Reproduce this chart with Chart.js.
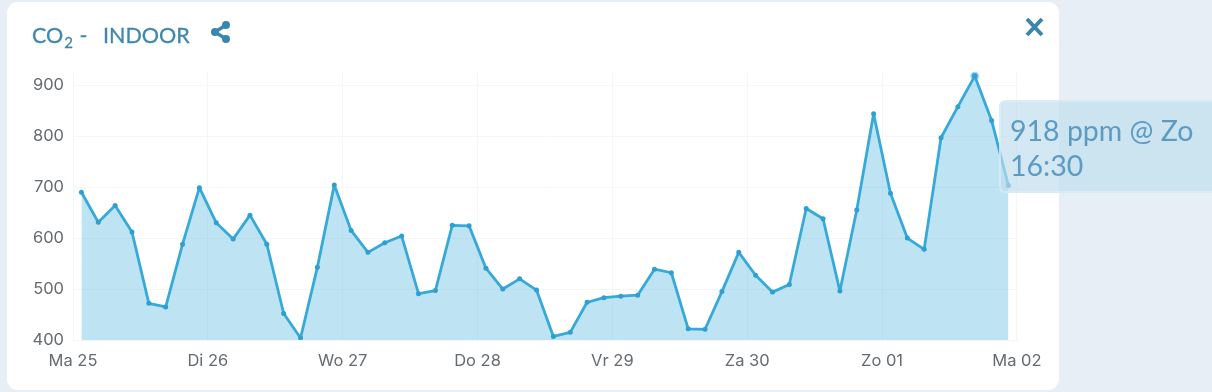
<!DOCTYPE html>
<html>
<head>
<meta charset="utf-8">
<title>CO2 indoor</title>
<script src="https://cdn.jsdelivr.net/npm/chart.js@4"></script>
<style>
  html, body { margin: 0; width: 1212px; height: 392px; overflow: hidden; background: #e8eef6; font-family: Lato, sans-serif; }
  #card { position: absolute; left: 7px; top: 2px; width: 1052px; height: 388px; background: #fff; border-radius: 11px; }
  #chartWrap { position: absolute; left: 0; top: 0; width: 1059px; height: 392px; }
  .title { position: absolute; top: 22px; color: #3f88ad; font-size: 21.5px; line-height: 26px; white-space: nowrap; -webkit-text-stroke: 0.3px #3f88ad; }
  .title sub { font-size: 15px; line-height: 0; margin: 0 1px; }
  #tip { position: absolute; left: 999px; top: 100px; width: 240px; height: 93px; box-sizing: border-box; padding: 11px 0 0 9px;
         background: rgba(190, 221, 238, 0.68); border: 2px solid rgba(225, 238, 246, 0.6); border-radius: 6px;
         color: #5c9bc4; font-size: 28.5px; line-height: 35px; display: none; }
  svg { position: absolute; }
</style>
</head>
<body>
<div id="card"></div>
<div id="chartWrap"><canvas id="co2Chart" width="1059" height="392"></canvas></div>
<div class="title" style="left:32px">CO<sub>2</sub> -</div>
<div class="title" style="left:103px">INDOOR</div>
<svg style="left:208px;top:18px" width="26" height="28" viewBox="0 0 26 28">
  <path d="M18 7 L7 14 L18 21" fill="none" stroke="#3a86ad" stroke-width="3.5"/>
  <circle cx="18" cy="7" r="4" fill="#3a86ad"/>
  <circle cx="7" cy="14" r="4" fill="#3a86ad"/>
  <circle cx="18" cy="21" r="4" fill="#3a86ad"/>
</svg>
<svg style="left:1024px;top:17px" width="21" height="20" viewBox="0 0 21 20">
  <path d="M3 2 L18 18 M18 2 L3 18" fill="none" stroke="#3a86ad" stroke-width="4"/>
</svg>
<div id="tip"></div>
<script>
  // one reading every 3 hours, starting at Ma 25 01:30
  const startHour = 1.5;
  const stepHours = 3;
  const co2Values = [
    690, 631, 664, 612, 472, 465, 588, 699,
    630, 598, 645, 588, 452, 404, 543, 704,
    615, 572, 591, 604, 491, 497, 625, 624,
    541, 500, 520, 498, 407, 415, 474, 483,
    486, 488, 539, 532, 422, 421, 495, 572,
    527, 494, 509, 658, 638, 496, 655, 844,
    688, 600, 578, 797, 858, 918, 831, 703
  ];
  const dayLabels = ["Ma 25", "Di 26", "Wo 27", "Do 28", "Vr 29", "Za 30", "Zo 01", "Ma 02"];
  const dayHours = [0, 24, 48, 72, 96, 120, 144, 168];
  const yTicks = [400, 500, 600, 700, 800, 900];
  const activeIndex = 53; // point with the tooltip

  const points = co2Values.map((v, i) => ({ x: startHour + i * stepHours, y: v }));
  const tickColor = "#666b6f";
  const gridColor = "#f4f6f8";

  // html tooltip, it runs over the edge of the card
  function showTip(context) {
    const el = document.getElementById("tip");
    const tt = context.tooltip;
    if (!tt.dataPoints || !tt.dataPoints.length) { el.style.display = "none"; return; }
    const p = tt.dataPoints[0].parsed;
    const day = dayLabels[Math.floor(p.x / 24)].split(" ")[0];
    const h = Math.floor(p.x % 24);
    const m = Math.round((p.x % 1) * 60);
    el.innerHTML = p.y + " ppm @ " + day + "<br>" + h + ":" + String(m).padStart(2, "0");
    el.style.display = "block";
  }

  const chart = new Chart(document.getElementById("co2Chart"), {
    type: "line",
    data: {
      datasets: [{
        data: points,
        borderColor: "#37a9d9",
        borderWidth: 2.8,
        borderJoinStyle: "round",
        backgroundColor: "rgba(52, 170, 222, 0.32)",
        fill: "start",
        tension: 0,
        pointRadius: 2.5,
        pointBackgroundColor: "#2f9fd0",
        pointBorderWidth: 0,
        pointHoverRadius: 3,
        pointHoverBackgroundColor: "#2f9fd0",
        pointHoverBorderColor: "rgba(52, 170, 222, 0.45)",
        pointHoverBorderWidth: 3
      }]
    },
    options: {
      responsive: false,
      animation: false,
      events: [],
      layout: { padding: { top: 72, right: 41, left: 0, bottom: 0 } },
      plugins: {
        legend: { display: false },
        tooltip: { enabled: false, external: showTip }
      },
      scales: {
        x: {
          type: "linear",
          min: 0,
          max: 168.2,
          afterBuildTicks: (s) => { s.ticks = dayHours.map((v) => ({ value: v })); },
          afterFit: (s) => { s.height = 52; },
          border: { display: false },
          grid: { color: gridColor, drawTicks: false },
          ticks: {
            autoSkip: false,
            maxRotation: 0,
            padding: 11,
            color: tickColor,
            font: { family: "Inter", size: 16.5 },
            callback: (v) => dayLabels[dayHours.indexOf(v)]
          }
        },
        y: {
          min: 400,
          max: 926,
          afterBuildTicks: (s) => { s.ticks = yTicks.map((v) => ({ value: v })); },
          afterFit: (s) => { s.width = 73; },
          border: { display: false },
          grid: { color: gridColor, drawTicks: false },
          ticks: {
            padding: 9,
            color: tickColor,
            font: { family: "Inter", size: 16.5 }
          }
        }
      }
    }
  });

  const active = [{ datasetIndex: 0, index: activeIndex }];
  chart.setActiveElements(active);
  chart.tooltip.setActiveElements(active, { x: 0, y: 0 });
  chart.update();
</script>
</body>
</html>
